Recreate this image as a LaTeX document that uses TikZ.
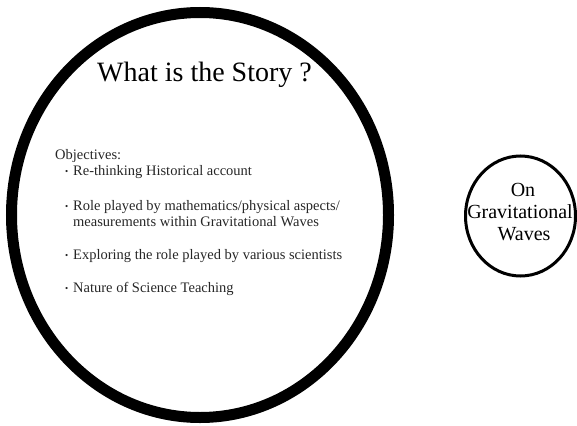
\documentclass[tikz,border=0pt]{standalone}
\usepackage{fontspec}
\setmainfont{Liberation Serif}
\usetikzlibrary{shapes.geometric}
\tikzset{
  bigring/.style={draw=black, line width=11pt, shape=ellipse, inner sep=0pt, outer sep=0pt},
  smallring/.style={draw=black, line width=3pt, shape=ellipse, inner sep=0pt, outer sep=0pt},
  titletext/.style={anchor=base west, inner sep=0pt, font=\fontsize{28}{30}\selectfont, text=black},
  bodytext/.style={anchor=base west, inner sep=0pt, font=\fontsize{14.5}{16}\selectfont, text=black!85},
  circtext/.style={anchor=base, inner sep=0pt, font=\fontsize{20}{22}\selectfont, text=black},
}
\newcommand{\bul}{\makebox[8pt][l]{\raisebox{0.5pt}{\fontsize{9}{9}\selectfont •}}}
\begin{document}
\begin{tikzpicture}[x=1pt,y=-1pt]
  \useasboundingbox (0,0) rectangle (577,425);
  % big ring
  \node[bigring, minimum width=377pt, minimum height=405pt] (story) at (200,215) {};
  % small ring
  \node[smallring, minimum width=110pt, minimum height=120pt] (gw) at (520.5,216) {};
  % title
  \node[titletext] (title) at (97,82) {What is the Story ?};
  % objectives
  \node[bodytext] (obj) at (55,159) {Objectives:};
  \node[bodytext] (o1) at (65,175) {\bul Re-thinking Historical account};
  \node[bodytext] (o2a) at (65,210) {\bul Role played by mathematics/physical aspects/};
  \node[bodytext] (o2b) at (73,226) {measurements within Gravitational Waves};
  \node[bodytext] (o3) at (65,259) {\bul Exploring the role played by various scientists};
  \node[bodytext] (o4) at (65,292) {\bul Nature of Science Teaching};
  % small circle text
  \node[circtext] (on) at (523,196) {On};
  \node[circtext] (grav) at (520,218) {Gravitational};
  \node[circtext] (waves) at (524,240) {Waves};
\end{tikzpicture}
\end{document}
